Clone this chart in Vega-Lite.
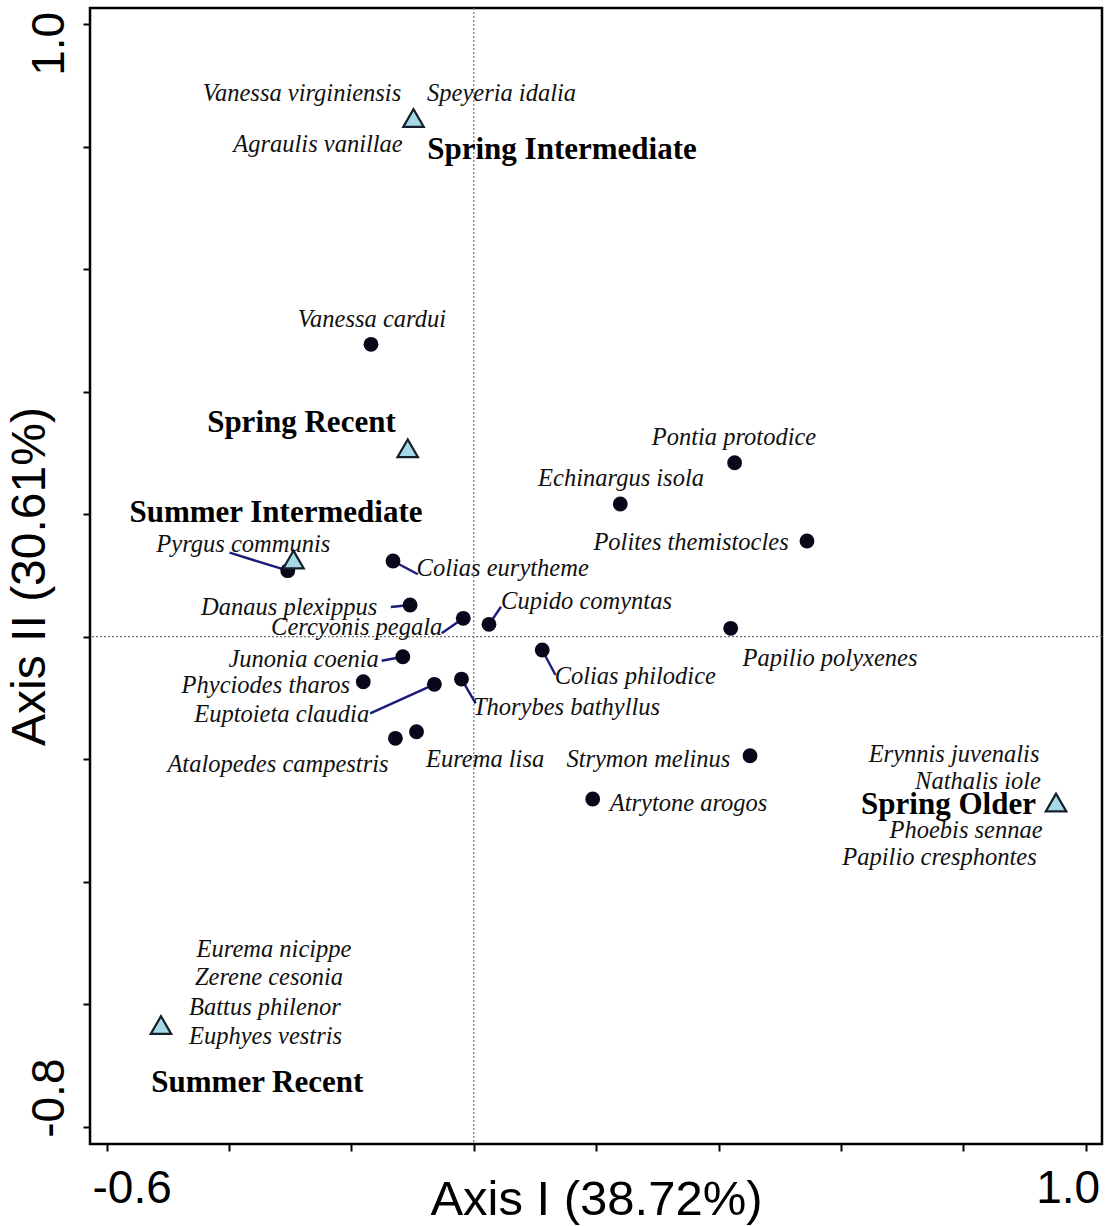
{
  "$schema": "https://vega.github.io/schema/vega-lite/v6.json",
  "width": 1012,
  "height": 1136,
  "autosize": {"type": "none"},
  "padding": {"left": 90, "top": 8, "right": 5, "bottom": 82},
  "background": "white",
  "config": {
    "view": {"stroke": "black", "strokeWidth": 2.5},
    "axis": {
      "grid": false,
      "domain": false,
      "ticks": true,
      "tickColor": "black",
      "tickWidth": 2,
      "tickSize": 7,
      "labelFont": "Liberation Sans",
      "labelFontSize": 46,
      "labelColor": "black",
      "labelOverlap": false,
      "labelBound": false,
      "labelFlush": false,
      "titleFont": "Liberation Sans",
      "titleFontSize": 49,
      "titleFontWeight": "normal",
      "titleColor": "black"
    },
    "text": {"font": "Liberation Serif", "color": "black"}
  },
  "datasets": {
    "species": [
      {"species": "Vanessa virginiensis", "label_x": -0.2808, "label_y": 0.8747},
      {"species": "Speyeria idalia", "label_x": 0.0453, "label_y": 0.8747},
      {"species": "Agraulis vanillae", "label_x": -0.2546, "label_y": 0.7914},
      {"species": "Vanessa cardui", "x": -0.168, "y": 0.4774, "label_x": -0.1665, "label_y": 0.5062},
      {"species": "Pontia protodice", "x": 0.4262, "y": 0.2841, "label_x": 0.4252, "label_y": 0.3138},
      {"species": "Echinargus isola", "x": 0.2394, "y": 0.2167, "label_x": 0.2406, "label_y": 0.2469},
      {"species": "Polites themistocles", "x": 0.5445, "y": 0.1563, "label_x": 0.355, "label_y": 0.1424},
      {"species": "Pyrgus communis", "x": -0.304, "y": 0.1078, "label_x": -0.3767, "label_y": 0.1383, "leader_x": -0.3991, "leader_y": 0.1372},
      {"species": "Colias eurytheme", "x": -0.132, "y": 0.1236, "label_x": 0.0472, "label_y": 0.0991, "leader_x": -0.0915, "leader_y": 0.1019},
      {"species": "Danaus plexippus", "x": -0.1041, "y": 0.0518, "label_x": -0.3017, "label_y": 0.0354, "leader_x": -0.1356, "leader_y": 0.0485},
      {"species": "Cercyonis pegala", "x": -0.0172, "y": 0.03, "label_x": -0.1914, "label_y": 0.0028, "leader_x": -0.0525, "leader_y": 0.0056},
      {"species": "Cupido comyntas", "x": 0.0248, "y": 0.0202, "label_x": 0.1842, "label_y": 0.046, "leader_x": 0.0445, "leader_y": 0.049},
      {"species": "Papilio polyxenes", "x": 0.4198, "y": 0.0137, "label_x": 0.5821, "label_y": -0.0478},
      {"species": "Junonia coenia", "x": -0.116, "y": -0.0327, "label_x": -0.278, "label_y": -0.0487, "leader_x": -0.1505, "leader_y": -0.0392},
      {"species": "Colias philodice", "x": 0.1118, "y": -0.0217, "label_x": 0.2639, "label_y": -0.078, "leader_x": 0.1335, "leader_y": -0.0625},
      {"species": "Phyciodes tharos", "x": -0.1806, "y": -0.0735, "label_x": -0.3398, "label_y": -0.0919},
      {"species": "Euptoieta claudia", "x": -0.0644, "y": -0.0777, "label_x": -0.3139, "label_y": -0.1393, "leader_x": -0.1693, "leader_y": -0.1251},
      {"species": "Thorybes bathyllus", "x": -0.0201, "y": -0.0691, "label_x": 0.1515, "label_y": -0.1278, "leader_x": 0.0031, "leader_y": -0.1087},
      {"species": "Atalopedes campestris", "x": -0.1281, "y": -0.1659, "label_x": -0.32, "label_y": -0.2217},
      {"species": "Eurema lisa", "x": -0.0936, "y": -0.1551, "label_x": 0.0185, "label_y": -0.2128},
      {"species": "Strymon melinus", "x": 0.4514, "y": -0.1943, "label_x": 0.2853, "label_y": -0.2128},
      {"species": "Atrytone arogos", "x": 0.1943, "y": -0.265, "label_x": 0.351, "label_y": -0.2846},
      {"species": "Erynnis juvenalis", "label_x": 0.7848, "label_y": -0.205},
      {"species": "Nathalis iole", "label_x": 0.824, "label_y": -0.2487},
      {"species": "Phoebis sennae", "label_x": 0.8044, "label_y": -0.3287},
      {"species": "Papilio cresphontes", "label_x": 0.7611, "label_y": -0.3728},
      {"species": "Eurema nicippe", "label_x": -0.3265, "label_y": -0.523},
      {"species": "Zerene cesonia", "label_x": -0.3347, "label_y": -0.5687},
      {"species": "Battus philenor", "label_x": -0.3413, "label_y": -0.6177},
      {"species": "Euphyes vestris", "label_x": -0.3404, "label_y": -0.665}
    ],
    "groups": [
      {"group": "Spring Intermediate", "x": -0.0985, "y": 0.847, "label_x": 0.1441, "label_y": 0.78},
      {"group": "Spring Recent", "x": -0.108, "y": 0.3076, "label_x": -0.2817, "label_y": 0.3347},
      {"group": "Summer Intermediate", "x": -0.2947, "y": 0.126, "label_x": -0.3233, "label_y": 0.1878},
      {"group": "Spring Older", "x": 0.9515, "y": -0.2707, "label_x": 0.7758, "label_y": -0.2895},
      {"group": "Summer Recent", "x": -0.5112, "y": -0.634, "label_x": -0.3538, "label_y": -0.7434}
    ]
  },
  "layer": [
    {
      "description": "Dotted zero lines of both ordination axes",
      "data": {"values": [{"origin": 0}]},
      "mark": {"type": "rule", "color": "#707070", "strokeWidth": 1.2, "strokeDash": [2, 2]},
      "encoding": {
        "x": {"field": "origin", "type": "quantitative", "scale": {"domain": [-0.6272, 1.0266], "nice": false, "zero": false}, "title": "Axis I (38.72%)",
          "axis": {
            "values": [-0.6, -0.4, -0.2, 0, 0.2, 0.4, 0.6, 0.8, 1],
            "labelExpr": "abs(datum.value + 0.6) < 1e-6 ? '-0.6' : abs(datum.value - 1) < 1e-6 ? '1.0' : ''",
            "labelAlign": "center",
            "labelBaseline": "alphabetic",
            "labelPadding": 51,
            "labelOffset": {"condition": {"test": "datum.value < 0", "value": 25}, "value": -18},
            "titleX": 506,
            "titleY": 70,
            "titleAlign": "center",
            "titleBaseline": "alphabetic"
          }
        }
      }
    },
    {
      "data": {"values": [{"origin": 0}]},
      "mark": {"type": "rule", "color": "#707070", "strokeWidth": 1.2, "strokeDash": [2, 2]},
      "encoding": {
        "y": {"field": "origin", "type": "quantitative", "scale": {"domain": [-0.8283, 1.0266], "nice": false, "zero": false}, "title": "Axis II (30.61%)",
          "axis": {
            "values": [-0.8, -0.6, -0.4, -0.2, 0, 0.2, 0.4, 0.6, 0.8, 1],
            "labelExpr": "abs(datum.value + 0.8) < 1e-6 ? '-0.8' : abs(datum.value - 1) < 1e-6 ? '1.0' : ''",
            "labelAngle": -90,
            "labelAlign": "center",
            "labelBaseline": "alphabetic",
            "labelPadding": 20,
            "labelOffset": {"condition": {"test": "datum.value > 0", "value": 19}, "value": -29},
            "titleAngle": -90,
            "titleX": -46,
            "titleY": 568,
            "titleAlign": "center",
            "titleBaseline": "alphabetic",
            "titleFontSize": 48
          }
        }
      }
    },
    {
      "description": "Leader lines from labels to their species scores",
      "data": {"name": "species"},
      "transform": [{"filter": "isValid(datum.leader_x)"}],
      "mark": {"type": "rule", "color": "#1b1b78", "strokeWidth": 2.4},
      "encoding": {
        "x": {"field": "leader_x", "type": "quantitative", "title": "Axis I (38.72%)"},
        "y": {"field": "leader_y", "type": "quantitative", "title": "Axis II (30.61%)"},
        "x2": {"field": "x"},
        "y2": {"field": "y"}
      }
    },
    {
      "description": "Species scores",
      "data": {"name": "species"},
      "transform": [{"filter": "isValid(datum.x)"}],
      "mark": {"type": "point", "shape": "circle", "filled": true, "size": 220, "color": "#08081a", "opacity": 1},
      "encoding": {
        "x": {"field": "x", "type": "quantitative", "title": "Axis I (38.72%)"},
        "y": {"field": "y", "type": "quantitative", "title": "Axis II (30.61%)"}
      }
    },
    {
      "description": "Season and age group centroids",
      "data": {"name": "groups"},
      "mark": {"type": "point", "shape": "triangle-up", "filled": true, "size": 420, "fill": "#a6d9e8", "stroke": "#15202b", "strokeWidth": 2.2, "opacity": 1},
      "encoding": {
        "x": {"field": "x", "type": "quantitative", "title": "Axis I (38.72%)"},
        "y": {"field": "y", "type": "quantitative", "title": "Axis II (30.61%)"}
      }
    },
    {
      "data": {"name": "species"},
      "mark": {"type": "text", "font": "Liberation Serif", "fontStyle": "italic", "fontSize": 24.5, "align": "center", "baseline": "alphabetic", "color": "#111111"},
      "encoding": {
        "x": {"field": "label_x", "type": "quantitative", "title": "Axis I (38.72%)"},
        "y": {"field": "label_y", "type": "quantitative", "title": "Axis II (30.61%)"},
        "text": {"field": "species"}
      }
    },
    {
      "data": {"name": "groups"},
      "mark": {"type": "text", "font": "Liberation Serif", "fontWeight": "bold", "fontSize": 31, "align": "center", "baseline": "alphabetic", "color": "black"},
      "encoding": {
        "x": {"field": "label_x", "type": "quantitative", "title": "Axis I (38.72%)"},
        "y": {"field": "label_y", "type": "quantitative", "title": "Axis II (30.61%)"},
        "text": {"field": "group"}
      }
    }
  ]
}
